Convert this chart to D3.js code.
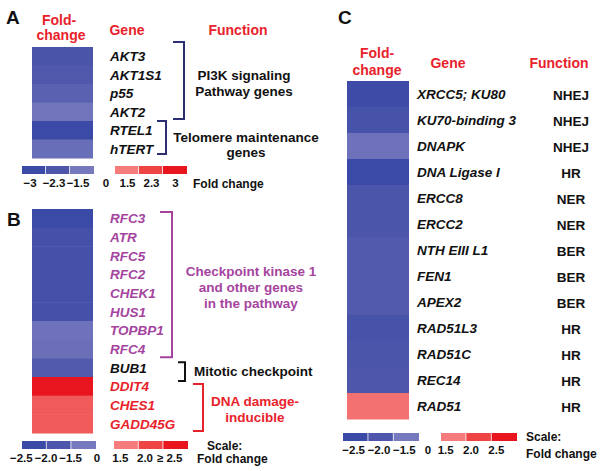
<!DOCTYPE html>
<html>
<head>
<meta charset="utf-8">
<script src="https://cdn.jsdelivr.net/npm/d3@7"></script>
<style>
  body { margin: 0; background: #fff; }
  text { font-family: "Liberation Sans", Arial, sans-serif; font-weight: bold; }
</style>
</head>
<body>
<div id="chart"></div>
<script>
/* ---- data ---- */
const genesA = ["AKT3", "AKT1S1", "p55", "AKT2", "RTEL1", "hTERT"];
const valuesA = [-2.4, -2.25, -2.05, -1.6, -3, -1.75];
const groupsA = [
    { first: "AKT3", last: "AKT2", lines: ["PI3K signaling", "Pathway genes"], kind: "navy" },
    { first: "RTEL1", last: "hTERT", lines: ["Telomere maintenance", "genes"], kind: "navy" }
];
const blueTicksA = [-3, -2.3, -1.5];
const redTicksA = [1.5, 2.3, 3];
const blueLabelsA = ["\u22123", "\u22122.3", "\u22121.5"];
const redLabelsA = ["1.5", "2.3", "3"];

const genesB = ["RFC3", "ATR", "RFC5", "RFC2", "CHEK1", "HUS1", "TOPBP1", "RFC4", "BUB1", "DDIT4", "CHES1", "GADD45G"];
const valuesB = [-2.5, -2.2, -2.2, -2.2, -2.2, -2.2, -1.6, -1.65, -1.95, 2.6, 1.8, 1.8];
const geneKindB = ["purple", "purple", "purple", "purple", "purple", "purple", "purple", "purple", "black", "red", "red", "red"];
const groupsB = [
    { first: "RFC3", last: "RFC4", lines: ["Checkpoint kinase 1", "and other genes", "in the pathway"], kind: "purple" },
    { first: "BUB1", last: "BUB1", lines: ["Mitotic checkpoint"], kind: "black" },
    { first: "DDIT4", last: "GADD45G", lines: ["DNA damage-", "inducible"], kind: "red" }
];
const blueTicksB = [-2.5, -2.0, -1.5];
const redTicksB = [1.5, 2.0, 2.5];
const blueLabelsB = ["\u22122.5", "\u22122.0", "\u22121.5"];
const redLabelsB = ["1.5", "2.0", "\u2265 2.5"];

const genesC = ["XRCC5; KU80", "KU70-binding 3", "DNAPK", "DNA Ligase I", "ERCC8", "ERCC2", "NTH EIII L1", "FEN1", "APEX2", "RAD51L3", "RAD51C", "REC14", "RAD51"];
const valuesC = [-2.4, -2.15, -1.6, -2.5, -2.05, -2.05, -1.95, -1.95, -1.95, -2.15, -2.05, -2.0, 1.6];
const functionsC = ["NHEJ", "NHEJ", "NHEJ", "HR", "NER", "NER", "BER", "BER", "BER", "HR", "HR", "HR", "HR"];
const blueTicksC = [-2.5, -2.0, -1.5];
const redTicksC = [1.5, 2.0, 2.5];
const blueLabelsC = ["\u22122.5", "\u22122.0", "\u22121.5"];
const redLabelsC = ["1.5", "2.0", "2.5"];

/* ---- colours ---- */
const palette = {
    red: "#e8222b",
    purple: "#a5449f",
    black: "#111111",
    navy: "#2d2f73"
};
const blueRamp = ["#3a4aa6", "#4d56aa", "#7679be"];
const redRamp = ["#f47c7c", "#ee4444", "#e8141e"];

const svg = d3.select("#chart").append("svg")
    .attr("width", 604).attr("height", 471);

function colorScale(blueTicks, redTicks) {
    return d3.scaleLinear()
        .domain([...blueTicks, ...redTicks])
        .range([...blueRamp, ...redRamp])
        .clamp(true);
}

function txt(g, s, x, y, opts = {}) {
    return g.append("text")
        .text(s)
        .attr("x", x).attr("y", y)
        .attr("dy", "0.36em")
        .attr("font-size", opts.size || 13.5)
        .attr("font-style", opts.italic ? "italic" : "normal")
        .attr("text-anchor", opts.anchor || "start")
        .attr("fill", opts.fill || palette.black);
}

/* draw one heatmap column with its gene labels */
function heatColumn(g, genes, values, color, lay) {
    const y = d3.scaleBand().domain(genes).range([lay.top, lay.bottom]);
    g.append("g").selectAll("rect")
        .data(genes)
        .join("rect")
        .attr("x", lay.x)
        .attr("y", d => y(d))
        .attr("width", lay.w)
        .attr("height", y.bandwidth() + 0.5)
        .attr("fill", (d, i) => color(values[i]));
    return y;
}

function legend(g, blueTicks, redTicks, blueLabels, redLabels, color, lay) {
    const segB = (lay.blue[1] - lay.blue[0]) / 3;
    const segR = (lay.red[1] - lay.red[0]) / 3;
    blueTicks.forEach((v, i) => {
        g.append("rect").attr("x", lay.blue[0] + i * segB).attr("y", lay.y)
            .attr("width", segB - (i < 2 ? 0.8 : 0)).attr("height", lay.h).attr("fill", color(v));
        txt(g, blueLabels[i], lay.blue[0] + i * segB + segB / 2 + lay.blueShift, lay.ly, { size: 11.5, anchor: "middle" });
    });
    redTicks.forEach((v, i) => {
        g.append("rect").attr("x", lay.red[0] + i * segR).attr("y", lay.y)
            .attr("width", segR - (i < 2 ? 0.8 : 0)).attr("height", lay.h).attr("fill", color(v));
        txt(g, redLabels[i], lay.red[0] + i * segR + segR / 2 + lay.redShift, lay.ly, { size: 11.5, anchor: "middle" });
    });
    txt(g, "0", lay.zeroX, lay.ly, { size: 11.5, anchor: "middle" });
}

function bracket(g, y, grp, b) {
    const y0 = y(grp.first) + b.dy0;
    const y1 = y(grp.last) + y.bandwidth() + b.dy1;
    g.append("path")
        .attr("d", `M${b.x - b.tick},${y0}H${b.x}V${y1}H${b.x - b.tick}`)
        .attr("fill", "none")
        .attr("stroke", palette[grp.kind])
        .attr("stroke-width", 2);
    grp.lines.forEach((s, i) => {
        txt(g, s, b.tx, b.ty + i * b.lh, { anchor: b.anchor || "middle", fill: grp.kind === "navy" ? palette.black : palette[grp.kind] });
    });
}

/* ---------- Panel A ---------- */
const gA = svg.append("g");
txt(gA, "A", 6, 17, { size: 19 });
txt(gA, "Fold-", 59, 20, { size: 14, anchor: "middle", fill: palette.red });
txt(gA, "change", 61, 35, { size: 14, anchor: "middle", fill: palette.red });
txt(gA, "Gene", 127, 30, { size: 14, anchor: "middle", fill: palette.red });
txt(gA, "Function", 238, 30, { size: 14, anchor: "middle", fill: palette.red });
const colA = colorScale(blueTicksA, redTicksA);
const yA = heatColumn(gA, genesA, valuesA, colA, { x: 32, w: 61, top: 47, bottom: 158 });
genesA.forEach(d => txt(gA, d, 110, yA(d) + yA.bandwidth() / 2, { italic: true }));
bracket(gA, yA, groupsA[0], { x: 184, tick: 11, dy0: -5, dy1: -2, tx: 244, ty: 75, lh: 16 });
bracket(gA, yA, groupsA[1], { x: 166, tick: 9, dy0: 0, dy1: -4, tx: 246, ty: 137, lh: 15.5 });
legend(gA, blueTicksA, redTicksA, blueLabelsA, redLabelsA, colA,
    { y: 166, h: 8, blue: [22, 94], red: [115, 187], ly: 183, blueShift: -4, redShift: 0.5, zeroX: 106 });
txt(gA, "Fold change", 193, 184, { size: 12 });

/* ---------- Panel B ---------- */
const gB = svg.append("g");
txt(gB, "B", 7, 219, { size: 19 });
const colB = colorScale(blueTicksB, redTicksB);
const yB = heatColumn(gB, genesB, valuesB, colB, { x: 32, w: 61, top: 209, bottom: 433 });
genesB.forEach((d, i) => txt(gB, d, 110, yB(d) + yB.bandwidth() / 2, { italic: true, fill: palette[geneKindB[i]] }));
bracket(gB, yB, groupsB[0], { x: 172, tick: 12, dy0: 3, dy1: -1, tx: 251, ty: 271, lh: 16 });
bracket(gB, yB, groupsB[1], { x: 185, tick: 7, dy0: 4, dy1: 4, tx: 194, ty: 371, lh: 16, anchor: "start" });
bracket(gB, yB, groupsB[2], { x: 203, tick: 10, dy0: 7, dy1: -2, tx: 255, ty: 401, lh: 16 });
legend(gB, blueTicksB, redTicksB, blueLabelsB, redLabelsB, colB,
    { y: 441, h: 8, blue: [22, 96], red: [114, 188], ly: 458, blueShift: -13, redShift: -6, zeroX: 97 });
txt(gB, "Scale:", 207, 446, { size: 12 });
txt(gB, "Fold change", 197, 459, { size: 12 });

/* ---------- Panel C ---------- */
const gC = svg.append("g");
txt(gC, "C", 338, 17, { size: 19 });
txt(gC, "Fold-", 377, 53, { size: 14, anchor: "middle", fill: palette.red });
txt(gC, "change", 377, 70, { size: 14, anchor: "middle", fill: palette.red });
txt(gC, "Gene", 448, 63, { size: 14, anchor: "middle", fill: palette.red });
txt(gC, "Function", 559, 63, { size: 14, anchor: "middle", fill: palette.red });
const colC = colorScale(blueTicksC, redTicksC);
const yC = heatColumn(gC, genesC, valuesC, colC, { x: 347, w: 62, top: 81, bottom: 419 });
genesC.forEach((d, i) => {
    const cy = yC(d) + yC.bandwidth() / 2;
    txt(gC, d, 417, cy, { italic: true });
    txt(gC, functionsC[i], 571, cy + 1, { anchor: "middle" });
});
legend(gC, blueTicksC, redTicksC, blueLabelsC, redLabelsC, colC,
    { y: 433, h: 8, blue: [343, 419], red: [441, 517], ly: 450, blueShift: -2, redShift: -8, zeroX: 428 });
txt(gC, "Scale:", 526, 437, { size: 12 });
txt(gC, "Fold change", 526, 454, { size: 12 });
</script>
</body>
</html>
